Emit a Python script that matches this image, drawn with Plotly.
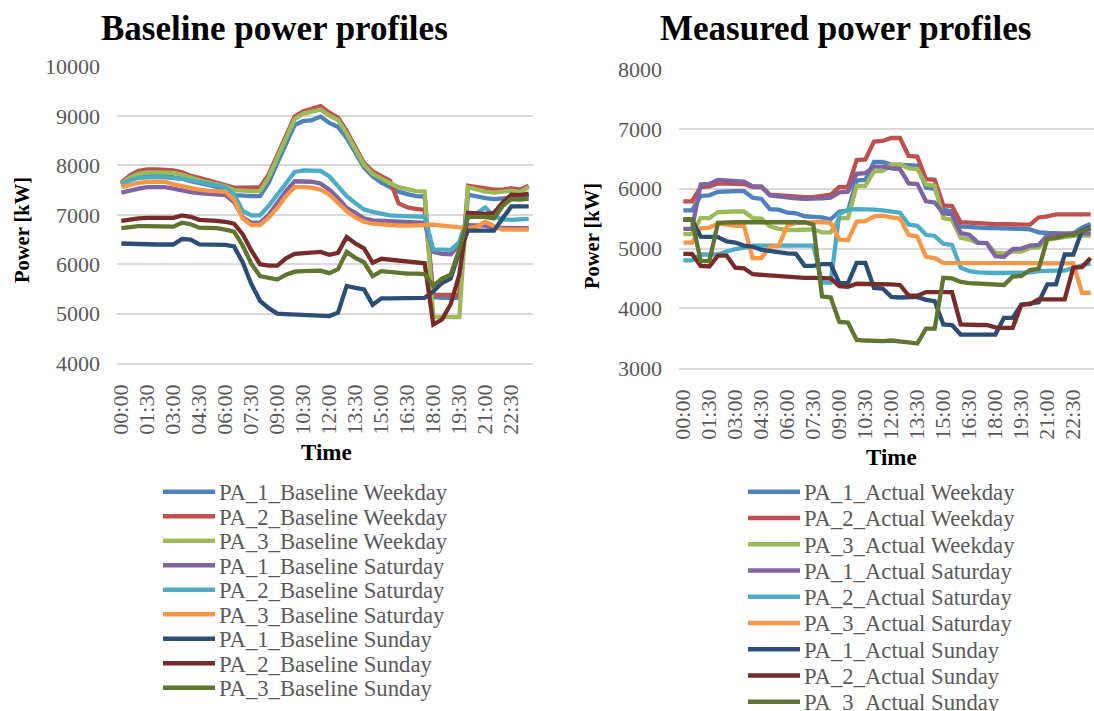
import plotly.graph_objects as go

# ---------------- data ----------------
TIME = ["00:00", "00:30", "01:00", "01:30", "02:00", "02:30", "03:00", "03:30",
        "04:00", "04:30", "05:00", "05:30", "06:00", "06:30", "07:00", "07:30",
        "08:00", "08:30", "09:00", "09:30", "10:00", "10:30", "11:00", "11:30",
        "12:00", "12:30", "13:00", "13:30", "14:00", "14:30", "15:00", "15:30",
        "16:00", "16:30", "17:00", "17:30", "18:00", "18:30", "19:00", "19:30",
        "20:00", "20:30", "21:00", "21:30", "22:00", "22:30", "23:00", "23:30"]
TICK_LABELS = ["00:00", "01:30", "03:00", "04:30", "06:00", "07:30", "09:00", "10:30",
               "12:00", "13:30", "15:00", "16:30", "18:00", "19:30", "21:00", "22:30"]

BASE_NAMES = ["PA_1_Baseline Weekday", "PA_2_Baseline Weekday", "PA_3_Baseline Weekday",
              "PA_1_Baseline Saturday", "PA_2_Baseline Saturday", "PA_3_Baseline Saturday",
              "PA_1_Baseline Sunday", "PA_2_Baseline Sunday", "PA_3_Baseline Sunday"]
ACT_NAMES = ["PA_1_Actual Weekday", "PA_2_Actual Weekday", "PA_3_Actual Weekday",
             "PA_1_Actual Saturday", "PA_2_Actual Saturday", "PA_3_Actual Saturday",
             "PA_1_Actual Sunday", "PA_2_Actual Sunday", "PA_3_Actual Sunday"]
COLORS = ["#4F81BD", "#C0504D", "#9BBB59", "#8064A2", "#4BACC6", "#F79646",
          "#2C4D75", "#772C2A", "#5F7530"]

# Baseline (kW)
PA1_BASE_WEEKDAY = [7600, 7700, 7770, 7790, 7790, 7790, 7770, 7730, 7680, 7640, 7610, 7570,
                    7530, 7400, 7380, 7380, 7380, 7650, 8050, 8430, 8820, 8900, 8920, 8990,
                    8860, 8780, 8560, 8260, 7960, 7780, 7650, 7560, 7470, 7420, 7380, 7370,
                    5330, 5320, 5320, 5320, 7410, 7370, 7340, 7320, 7330, 7360, 7360, 7400]
PA2_BASE_WEEKDAY = [7650, 7800, 7890, 7920, 7920, 7920, 7900, 7860, 7790, 7750, 7700, 7650,
                    7600, 7550, 7550, 7550, 7560, 7820, 8220, 8590, 8990, 9100, 9140, 9200,
                    9070, 8970, 8700, 8360, 8050, 7880, 7780, 7690, 7230, 7150, 7120, 7100,
                    5380, 5380, 5380, 5380, 7590, 7560, 7530, 7510, 7510, 7540, 7510, 7590]
PA3_BASE_WEEKDAY = [7620, 7760, 7830, 7860, 7860, 7860, 7850, 7810, 7750, 7700, 7660, 7620,
                    7580, 7500, 7480, 7480, 7480, 7760, 8160, 8540, 8940, 9050, 9080, 9130,
                    9010, 8920, 8650, 8320, 8010, 7830, 7730, 7640, 7560, 7510, 7480, 7470,
                    4930, 4930, 4930, 4930, 7560, 7510, 7470, 7450, 7460, 7490, 7460, 7560]
PA1_BASE_SATURDAY = [7450, 7500, 7530, 7560, 7570, 7560, 7530, 7490, 7460, 7440, 7420, 7410,
                     7400, 7260, 6950, 6840, 6840, 7000, 7240, 7480, 7680, 7670, 7670, 7630,
                     7510, 7340, 7140, 7040, 6930, 6890, 6880, 6860, 6850, 6850, 6840, 6840,
                     6250, 6210, 6200, 6400, 6790, 6790, 6780, 6740, 6730, 6730, 6730, 6730]
PA2_BASE_SATURDAY = [7620, 7700, 7750, 7770, 7770, 7760, 7750, 7730, 7700, 7660, 7630, 7600,
                     7560, 7420, 7080, 6990, 6990, 7180, 7410, 7650, 7870, 7900, 7900, 7890,
                     7780, 7580, 7380, 7240, 7110, 7060, 7020, 6990, 6980, 6970, 6960, 6960,
                     6300, 6290, 6290, 6450, 7020, 7030, 7150, 6970, 6910, 6900, 6910, 6920]
PA3_BASE_SATURDAY = [7560, 7610, 7650, 7670, 7670, 7670, 7620, 7580, 7540, 7510, 7490, 7480,
                     7470, 7310, 6930, 6790, 6790, 6940, 7140, 7380, 7560, 7560, 7550, 7510,
                     7410, 7240, 7070, 6950, 6860, 6820, 6800, 6780, 6780, 6780, 6790, 6800,
                     6800, 6780, 6760, 6740, 6730, 6760, 6860, 6770, 6700, 6700, 6700, 6700]
PA1_BASE_SUNDAY = [6420, 6410, 6410, 6410, 6400, 6400, 6400, 6510, 6500, 6400, 6400, 6400,
                   6390, 6360, 6040, 5600, 5260, 5110, 5000, 4990, 4980, 4970, 4960, 4950,
                   4950, 5020, 5560, 5520, 5490, 5180, 5310, 5310, 5310, 5310, 5310, 5320,
                   5450, 5620, 5710, 6250, 6680, 6680, 6680, 6680, 6930, 7170, 7170, 7170]
PA2_BASE_SUNDAY = [6880, 6910, 6930, 6940, 6940, 6930, 6940, 6990, 6960, 6900, 6900, 6880,
                   6860, 6820, 6610, 6280, 6000, 5970, 5970, 6120, 6210, 6230, 6240, 6250,
                   6190, 6230, 6550, 6420, 6320, 6030, 6110, 6090, 6060, 6040, 6030, 6020,
                   4780, 4880, 5190, 5790, 7040, 7030, 7020, 7040, 7250, 7410, 7400, 7430]
PA3_BASE_SUNDAY = [6730, 6760, 6770, 6770, 6770, 6760, 6760, 6840, 6810, 6740, 6740, 6730,
                   6700, 6660, 6380, 6010, 5760, 5720, 5690, 5790, 5850, 5860, 5860, 5870,
                   5820, 5900, 6250, 6130, 6040, 5760, 5860, 5840, 5820, 5810, 5810, 5800,
                   5560, 5710, 5790, 6300, 6960, 6960, 6960, 6930, 7180, 7320, 7310, 7330]

# Measured (kW)
PA1_ACT_WEEKDAY = [5640, 5640, 5880, 5890, 5950, 5960, 5960, 5960, 5850, 5830, 5660, 5650,
                   5600, 5590, 5540, 5530, 5520, 5490, 5620, 5630, 6140, 6150, 6450, 6450,
                   6400, 6400, 6400, 6390, 6020, 6000, 5650, 5620, 5370, 5360, 5340, 5340,
                   5340, 5340, 5330, 5330, 5320, 5270, 5260, 5250, 5250, 5250, 5350, 5410]
PA2_ACT_WEEKDAY = [5790, 5790, 6030, 6040, 6090, 6090, 6090, 6080, 6030, 6030, 5900, 5890,
                   5870, 5860, 5860, 5860, 5880, 5900, 6030, 6030, 6480, 6490, 6790, 6800,
                   6850, 6850, 6550, 6540, 6160, 6150, 5720, 5710, 5440, 5430, 5420, 5420,
                   5410, 5410, 5400, 5400, 5400, 5520, 5540, 5570, 5570, 5570, 5570, 5570]
PA3_ACT_WEEKDAY = [5240, 5240, 5510, 5510, 5610, 5620, 5620, 5620, 5510, 5500, 5370, 5330,
                   5310, 5310, 5320, 5320, 5270, 5270, 5510, 5510, 6050, 6050, 6290, 6300,
                   6400, 6410, 6340, 6330, 6070, 6050, 5510, 5480, 5180, 5150, 5090, 5090,
                   4930, 4920, 4950, 4950, 5010, 5020, 5150, 5170, 5200, 5210, 5220, 5210]
PA1_ACT_SATURDAY = [5330, 5330, 6070, 6080, 6150, 6140, 6120, 6120, 6040, 6040, 5890, 5870,
                    5850, 5840, 5830, 5830, 5840, 5850, 5940, 5950, 6250, 6260, 6370, 6370,
                    6340, 6330, 6090, 6080, 5790, 5770, 5590, 5570, 5260, 5230, 5100, 5090,
                    4870, 4860, 4990, 5000, 5050, 5060, 5220, 5240, 5250, 5260, 5260, 5250]
PA2_ACT_SATURDAY = [4800, 4800, 4900, 4900, 4900, 4950, 4990, 5010, 5050, 5050, 5050, 5050,
                    5050, 5050, 5050, 5050, 4430, 4430, 5580, 5650, 5660, 5660, 5650, 5640,
                    5620, 5600, 5400, 5380, 5230, 5210, 5080, 5060, 4680, 4620, 4600, 4590,
                    4590, 4590, 4590, 4590, 4600, 4620, 4630, 4630, 4630, 4680, 4720, 4750]
PA3_ACT_SATURDAY = [5100, 5100, 5340, 5350, 5420, 5400, 5380, 5380, 4840, 4840, 5030, 5050,
                    5380, 5430, 5440, 5440, 5440, 5430, 5150, 5140, 5450, 5460, 5540, 5550,
                    5520, 5500, 5230, 5200, 4860, 4840, 4760, 4760, 4760, 4760, 4760, 4760,
                    4760, 4760, 4760, 4760, 4760, 4750, 4750, 4750, 4750, 4750, 4260, 4260]
PA1_ACT_SUNDAY = [5480, 5480, 5200, 5200, 5190, 5120, 5100, 5050, 5030, 4980, 4960, 4930,
                  4920, 4910, 4710, 4710, 4740, 4740, 4420, 4420, 4760, 4760, 4340, 4330,
                  4190, 4180, 4180, 4190, 4140, 4120, 3730, 3720, 3560, 3560, 3560, 3560,
                  3560, 3840, 3840, 4060, 4080, 4100, 4400, 4400, 4900, 4900, 5300, 5350]
PA2_ACT_SUNDAY = [4910, 4910, 4710, 4700, 4880, 4880, 4680, 4670, 4570, 4560, 4540, 4530,
                  4520, 4510, 4510, 4510, 4510, 4500, 4370, 4360, 4410, 4410, 4410, 4410,
                  4400, 4390, 4210, 4210, 4270, 4270, 4270, 4270, 3730, 3720, 3720, 3720,
                  3680, 3670, 3670, 4060, 4070, 4150, 4150, 4150, 4150, 4680, 4690, 4840]
PA3_ACT_SUNDAY = [5490, 5490, 4790, 4790, 5430, 5440, 5440, 5440, 5440, 5440, 5440, 5440,
                  5440, 5440, 5440, 5400, 4200, 4180, 3770, 3760, 3470, 3460, 3450, 3450,
                  3460, 3450, 3430, 3410, 3660, 3660, 4510, 4500, 4440, 4420, 4410, 4400,
                  4390, 4390, 4530, 4540, 4640, 4660, 5160, 5180, 5220, 5230, 5300, 5330]

BASE_SERIES = [PA1_BASE_WEEKDAY, PA2_BASE_WEEKDAY, PA3_BASE_WEEKDAY,
               PA1_BASE_SATURDAY, PA2_BASE_SATURDAY, PA3_BASE_SATURDAY,
               PA1_BASE_SUNDAY, PA2_BASE_SUNDAY, PA3_BASE_SUNDAY]
ACT_SERIES = [PA1_ACT_WEEKDAY, PA2_ACT_WEEKDAY, PA3_ACT_WEEKDAY,
              PA1_ACT_SATURDAY, PA2_ACT_SATURDAY, PA3_ACT_SATURDAY,
              PA1_ACT_SUNDAY, PA2_ACT_SUNDAY, PA3_ACT_SUNDAY]

# ---------------- figure ----------------
W, H = 1094, 711
FONT = "Liberation Serif"
GRID = "#D9D9D9"
TXT = "#595959"


def fx(px):
    return px / W


def fy(py):
    return 1 - py / H


fig = go.Figure()
for name, vals, col in zip(BASE_NAMES, BASE_SERIES, COLORS):
    fig.add_trace(go.Scatter(x=TIME, y=vals, mode="lines", name=name,
                             line=dict(color=col, width=4.3),
                             xaxis="x", yaxis="y", showlegend=False))
for name, vals, col in zip(ACT_NAMES, ACT_SERIES, COLORS):
    fig.add_trace(go.Scatter(x=TIME, y=vals, mode="lines", name=name,
                             line=dict(color=col, width=4.3),
                             xaxis="x2", yaxis="y2", showlegend=False))

tickfont = dict(family=FONT, size=22, color=TXT)


def xax(domain, rng, anchor):
    return dict(domain=domain, anchor=anchor, type="category", automargin=False,
                categoryorder="array", categoryarray=TIME, range=rng,
                tickmode="array", tickvals=TICK_LABELS, ticktext=TICK_LABELS,
                tickangle=-90, tickfont=tickfont, showgrid=False,
                showline=True, linecolor=GRID, linewidth=1.5, ticks="",
                ticklabelstandoff=11, zeroline=False)


def yax(domain, rng, anchor):
    return dict(domain=domain, anchor=anchor, range=rng, dtick=1000, tick0=0,
                automargin=False,
                tickformat="d", gridcolor=GRID, gridwidth=1.5, showline=False,
                zeroline=False, ticks="", tickfont=tickfont, ticklabelstandoff=16)


fig.update_layout(
    width=W, height=H, margin=dict(l=0, r=0, t=0, b=0, pad=0, autoexpand=False),
    paper_bgcolor="white", plot_bgcolor="white",
    font=dict(family=FONT, color=TXT),
    xaxis=xax([fx(117), fx(533)], [-0.5, 47.5], "y"),
    yaxis=yax([fy(363), fy(66.7)], [4000, 10000], "x"),
    xaxis2=xax([fx(679), 1.0], [-0.5, 47.385], "y2"),
    yaxis2=yax([fy(368), fy(69.3)], [3000, 8000], "x2"),
    showlegend=False,
)

ann = []
shapes = []
# titles
ann.append(dict(text="<b>Baseline power profiles</b>", x=fx(274.5), y=fy(28)))
ann.append(dict(text="<b>Measured power profiles</b>", x=fx(845), y=fy(28)))
for a in ann:
    a.update(xref="paper", yref="paper", showarrow=False, xanchor="center", yanchor="middle",
             font=dict(family=FONT, size=35, color="black"))
# axis titles
for (xc, yc) in [(326, 452), (891, 457)]:
    ann.append(dict(text="<b>Time</b>", x=fx(xc), y=fy(yc), xref="paper", yref="paper",
                    showarrow=False, xanchor="center", yanchor="middle",
                    font=dict(family=FONT, size=23, color="black")))
for (xc, yc) in [(22, 230), (592, 236)]:
    ann.append(dict(text="<b>Power [kW]</b>", x=fx(xc), y=fy(yc), xref="paper", yref="paper",
                    showarrow=False, xanchor="center", yanchor="middle", textangle=-90,
                    font=dict(family=FONT, size=20.5, color="black")))

# legends (drawn as text + sample lines)
legends = [
    (BASE_NAMES, 163, 215, 217, 491.7, 24.5),
    (ACT_NAMES, 748, 800, 802, 491.7, 26.25),
]
for names, x0, x1, xt, ystart, step in legends:
    for k, (name, col) in enumerate(zip(names, COLORS)):
        yy = ystart + k * step
        shapes.append(dict(type="line", xref="paper", yref="paper",
                           x0=fx(x0), x1=fx(x1), y0=fy(yy), y1=fy(yy),
                           line=dict(color=col, width=4.5)))
        ann.append(dict(text=name, x=fx(xt), y=fy(yy + 1), xref="paper", yref="paper",
                        showarrow=False, xanchor="left", yanchor="middle",
                        font=dict(family=FONT, size=22.7, color=TXT)))

fig.update_layout(annotations=ann, shapes=shapes)
fig.write_html("out.html")
